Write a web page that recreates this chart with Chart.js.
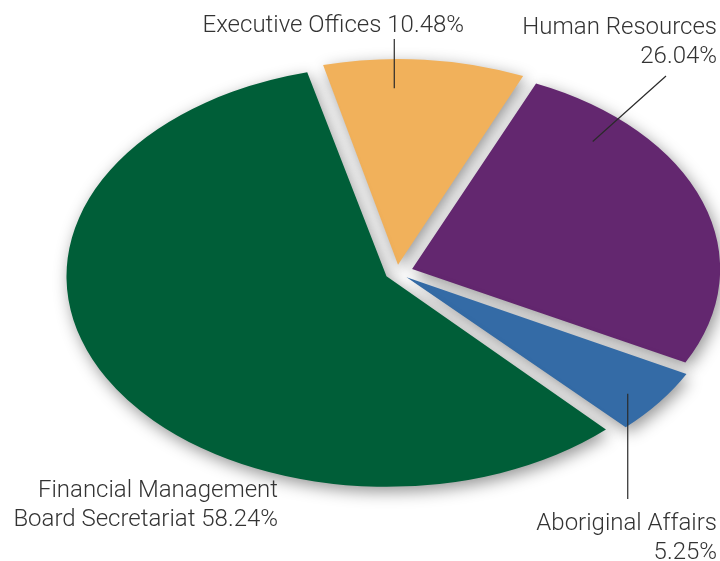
<!DOCTYPE html>
<html>
<head>
<meta charset="utf-8">
<title>Expenditure by Division</title>
<script src="https://cdn.jsdelivr.net/npm/chart.js@4.4.0/dist/chart.umd.min.js"></script>
<style>
  html, body { margin: 0; padding: 0; background: #fff; }
  #wrap { width: 720px; height: 561px; position: relative; }
</style>
</head>
<body>
<div id="wrap"><canvas id="canvas"></canvas></div>
<script>
// divisions, in drawing order (clockwise from the top)
var divisions = ['Executive Offices', 'Human Resources', 'Aboriginal Affairs', 'Financial Management Board Secretariat'];
var shares = [10.48, 26.04, 5.25, 58.24];
var sliceColors = ['#f1b15b', '#63276f', '#346ba6', '#005e38'];

// pie is squashed vertically to look tilted
var tilt = 0.658;

// label placement: first-line word count, text anchor, leader line
var labelLayout = [
    { words: 0, x: 464, y: 32, align: 'right', leader: { angle: -0.8, frac: 0.87, vertical: true, end: 39 } },
    { words: 2, x: 717, y: 34, align: 'right', leader: { angle: 43, frac: 0.86, vertical: false, ex: 666, ey: 76 } },
    { words: 2, x: 717, y: 530, align: 'right', leader: { angle: 128.7, frac: 0.92, vertical: true, end: 499 } },
    { words: 2, x: 278, y: 497, align: 'right', leader: null }
];

function labelLines(i) {
    var pct = shares[i].toFixed(2) + '%';
    var parts = divisions[i].split(' ');
    var n = labelLayout[i].words;
    if (!n) return [divisions[i] + ' ' + pct];
    var first = parts.slice(0, n).join(' ');
    var rest = parts.slice(n).join(' ');
    return [first, rest ? rest + ' ' + pct : pct];
}

// point inside a slice, in screen space (clockwise degrees from top)
function slicePoint(arc, centerY, deg, frac) {
    var mid = (arc.startAngle + arc.endAngle) / 2;
    var shift = (arc.options.offset || 0) / 4;
    var a = (deg - 90) * Math.PI / 180;
    var r = arc.outerRadius * frac;
    return {
        x: arc.x + Math.cos(mid) * shift + Math.cos(a) * r,
        y: centerY + tilt * (Math.sin(mid) * shift + Math.sin(a) * r)
    };
}

var tiltPlugin = {
    id: 'tilt',
    beforeDatasetsDraw: function (chart) {
        var ctx = chart.ctx;
        var cy = chart.getDatasetMeta(0).data[0].y;
        ctx.save();
        ctx.translate(0, cy);
        ctx.scale(1, tilt);
        ctx.translate(0, -cy);
        ctx.shadowColor = 'rgba(0, 0, 0, 0.42)';
        ctx.shadowBlur = 16;
        ctx.shadowOffsetX = 3;
        ctx.shadowOffsetY = 5;
    },
    afterDatasetsDraw: function (chart) {
        var ctx = chart.ctx;
        ctx.restore();

        var arcs = chart.getDatasetMeta(0).data;
        var cy = arcs[0].y;
        ctx.save();
        ctx.fillStyle = '#333333';
        ctx.strokeStyle = '#2a2a2a';
        ctx.lineWidth = 1.2;
        ctx.font = '300 24px Roboto, "Liberation Sans", sans-serif';
        ctx.textBaseline = 'alphabetic';

        labelLayout.forEach(function (lay, i) {
            var lines = labelLines(i);
            ctx.textAlign = lay.align;
            lines.forEach(function (t, j) {
                ctx.fillText(t, lay.x, lay.y + j * 28.5);
            });
            if (lay.leader) {
                var p = slicePoint(arcs[i], cy, lay.leader.angle, lay.leader.frac);
                ctx.beginPath();
                ctx.moveTo(p.x, p.y);
                if (lay.leader.vertical) ctx.lineTo(p.x, lay.leader.end);
                else ctx.lineTo(lay.leader.ex, lay.leader.ey);
                ctx.stroke();
            }
        });
        ctx.restore();
    }
};

window.onload = function () {
    var ctx = document.getElementById('canvas').getContext('2d');
    new Chart(ctx, {
        type: 'pie',
        data: {
            labels: divisions,
            datasets: [{
                data: shares,
                backgroundColor: sliceColors,
                borderWidth: 0,
                offset: [48, 64, 48, 48],
                hoverOffset: 0,
                clip: false
            }]
        },
        options: {
            responsive: true,
            maintainAspectRatio: false,
            animation: false,
            events: [],
            rotation: -14,
            radius: 308,
            layout: { padding: { left: 74, right: 0, top: 0, bottom: 16 } },
            plugins: {
                legend: { display: false },
                tooltip: { enabled: false }
            }
        },
        plugins: [tiltPlugin]
    });
};
</script>
</body>
</html>
